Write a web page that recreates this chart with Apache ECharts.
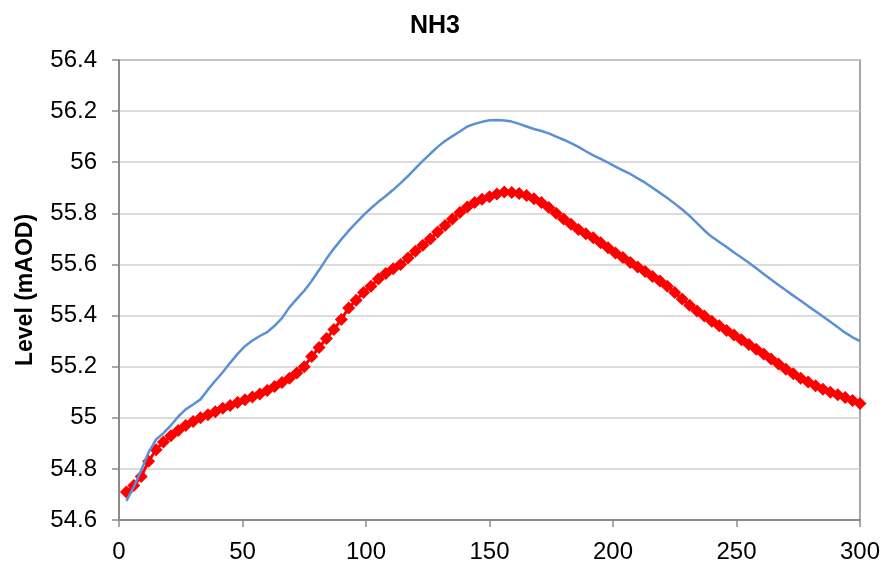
<!DOCTYPE html>
<html>
<head>
<meta charset="utf-8">
<script src="https://cdn.jsdelivr.net/npm/echarts@6/dist/echarts.min.js"></script>
<style>
  html, body { margin: 0; padding: 0; background: #ffffff; }
  #chart { width: 884px; height: 572px; }
</style>
</head>
<body>
<div id="chart"></div>
<script>
// Chainage / time steps along the x axis
var xValues = [
  3, 6, 9, 12, 15, 18, 21, 24, 27, 30,
  33, 36, 39, 42, 45, 48, 51, 54, 57, 60,
  63, 66, 69, 72, 75, 78, 81, 84, 87, 90,
  93, 96, 99, 102, 105, 108, 111, 114, 117, 120,
  123, 126, 129, 132, 135, 138, 141, 144, 147, 150,
  153, 156, 159, 162, 165, 168, 171, 174, 177, 180,
  183, 186, 189, 192, 195, 198, 201, 204, 207, 210,
  213, 216, 219, 222, 225, 228, 231, 234, 237, 240,
  243, 246, 249, 252, 255, 258, 261, 264, 267, 270,
  273, 276, 279, 282, 285, 288, 291, 294, 297, 300
];

// Upper level trace (blue line), mAOD
var blueLevels = [
  54.675, 54.730, 54.795, 54.865, 54.915, 54.940, 54.970, 55.005, 55.033, 55.052,
  55.072, 55.110, 55.145, 55.178, 55.215, 55.250, 55.280, 55.302, 55.320, 55.335,
  55.360, 55.390, 55.432, 55.465, 55.497, 55.535, 55.578, 55.622, 55.662, 55.698,
  55.732, 55.763, 55.793, 55.820, 55.845, 55.868, 55.892, 55.918, 55.946, 55.976,
  56.005, 56.033, 56.060, 56.083, 56.102, 56.120, 56.140, 56.150, 56.158, 56.164,
  56.165, 56.163, 56.159, 56.150, 56.140, 56.130, 56.122, 56.113, 56.100, 56.088,
  56.075, 56.060, 56.043, 56.027, 56.013, 55.998, 55.983, 55.968, 55.954, 55.937,
  55.920, 55.900, 55.880, 55.860, 55.838, 55.815, 55.790, 55.762, 55.733, 55.708,
  55.688, 55.668, 55.647, 55.627, 55.607, 55.585, 55.563, 55.541, 55.520, 55.499,
  55.478, 55.458, 55.437, 55.417, 55.396, 55.376, 55.354, 55.333, 55.315, 55.300
];

// Lower level trace (red diamonds), mAOD
var redLevels = [
  54.710, 54.735, 54.770, 54.830, 54.875, 54.905, 54.930, 54.950, 54.970, 54.985,
  55.000, 55.012, 55.024, 55.037, 55.048, 55.060, 55.071, 55.081, 55.093, 55.107,
  55.122, 55.138, 55.155, 55.175, 55.200, 55.240, 55.275, 55.310, 55.345, 55.385,
  55.430, 55.460, 55.490, 55.515, 55.543, 55.565, 55.583, 55.600, 55.625, 55.652,
  55.675, 55.700, 55.727, 55.752, 55.778, 55.803, 55.825, 55.842, 55.855, 55.865,
  55.876, 55.883, 55.882, 55.878, 55.870, 55.857, 55.842, 55.823, 55.800, 55.778,
  55.757, 55.737, 55.720, 55.704, 55.685, 55.665, 55.645, 55.627, 55.608, 55.590,
  55.572, 55.553, 55.535, 55.515, 55.490, 55.465, 55.440, 55.418, 55.398, 55.378,
  55.360, 55.342, 55.324, 55.305, 55.287, 55.268, 55.250, 55.230, 55.210, 55.190,
  55.172, 55.155, 55.140, 55.125, 55.112, 55.100, 55.090, 55.079, 55.068, 55.056
];

function pairs(xs, ys) {
  return xs.map(function (x, i) { return [x, ys[i]]; });
}

var axisGray = '#8a8a8a';
var gridGray = '#d0d0d0';
var labelFont = '"Liberation Sans", Arial, sans-serif';

var chart = echarts.init(document.getElementById('chart'), null, { renderer: 'canvas' });

chart.setOption({
  animation: false,
  backgroundColor: '#ffffff',
  title: {
    text: 'NH3',
    left: 430,
    top: 9,
    textAlign: 'center',
    textStyle: {
      fontFamily: labelFont,
      fontSize: 25,
      fontWeight: 'bold',
      color: '#000000'
    }
  },
  grid: {
    left: 119,
    right: 24,
    top: 60,
    bottom: 52,
    show: true,
    borderColor: axisGray,
    borderWidth: 1.5,
    containLabel: false
  },
  xAxis: {
    type: 'value',
    min: 0,
    max: 300,
    interval: 50,
    axisLine: { show: true, onZero: false, lineStyle: { color: axisGray, width: 2 } },
    axisTick: { show: true, inside: false, length: 7, lineStyle: { color: axisGray, width: 1.5 } },
    splitLine: { show: false },
    axisLabel: {
      margin: 20,
      fontFamily: labelFont,
      fontSize: 24,
      color: '#000000'
    }
  },
  yAxis: {
    type: 'value',
    min: 54.6,
    max: 56.4,
    interval: 0.2,
    name: 'Level (mAOD)',
    nameLocation: 'middle',
    nameGap: 82,
    nameTextStyle: {
      fontFamily: labelFont,
      fontSize: 23,
      fontWeight: 'bold',
      color: '#000000'
    },
    axisLine: { show: true, onZero: false, lineStyle: { color: axisGray, width: 2 } },
    axisTick: { show: true, inside: false, length: 7, lineStyle: { color: axisGray, width: 1.5 } },
    splitLine: { show: true, lineStyle: { color: gridGray, width: 1.5 } },
    axisLabel: {
      margin: 22,
      fontFamily: labelFont,
      fontSize: 24,
      color: '#000000',
      formatter: function (v) { return String(Math.round(v * 10) / 10); }
    }
  },
  series: [
    {
      name: 'Red',
      type: 'line',
      data: pairs(xValues, redLevels),
      symbol: 'diamond',
      symbolSize: 13,
      showSymbol: true,
      showAllSymbol: true,
      itemStyle: { color: '#ff0000' },
      lineStyle: { color: '#ff0000', width: 3 },
      z: 2
    },
    {
      name: 'Blue',
      type: 'line',
      data: pairs(xValues, blueLevels),
      symbol: 'none',
      smooth: false,
      lineStyle: { color: '#5b8fd6', width: 2.5 },
      z: 3
    }
  ]
});
</script>
</body>
</html>
